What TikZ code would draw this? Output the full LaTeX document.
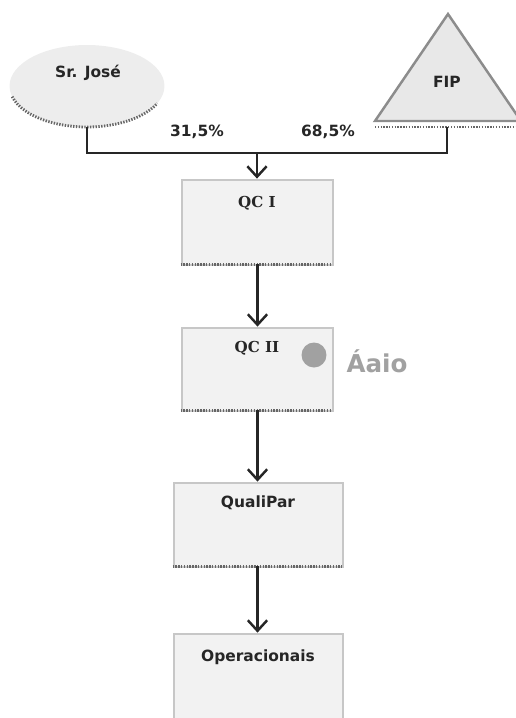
\documentclass[tikz,border=0pt]{standalone}
\usepackage{fontspec}
\setmainfont{DejaVu Sans}
\newfontfamily\serifbf{DejaVu Serif}
\usetikzlibrary{shapes.geometric,arrows.meta}

\begin{document}
\begin{tikzpicture}[x=0.02cm, y=-0.02cm,
		bloco/.style={rectangle, draw=black!22, fill=black!5, line width=1.6pt, inner sep=0pt},
		elipse/.style={ellipse, fill=black!7, inner sep=0pt},
		triang/.style={draw=black!45, fill=black!9, line width=1.4pt, line join=miter},
		sombra/.style={draw=black!60, line width=1.6pt, dash pattern=on 0.8pt off 0.8pt},
		lbl/.style={font=\fontsize{8.8}{10}\selectfont\bfseries, text=black!85},
		lblserif/.style={font=\fontsize{8.6}{10}\selectfont\serifbf\bfseries, text=black!85},
		liga/.style={draw=black!85, line width=1.4pt},
		seta/.style={liga, -{Straight Barb[length=6pt, width=11pt]}}]
			%%%%% START %%%%%
			\useasboundingbox (0,0) rectangle (515,718);
			
			% topo: socios
			\node[elipse, minimum width=3.1cm, minimum height=1.64cm] (sr) at (87,86) {};
			\draw[sombra] (sr.center) ++(195:1.55cm and 0.82cm) arc[start angle=195, end angle=335, x radius=1.55cm, y radius=0.82cm];
			\node[lbl] (srtxt) at (88,73) {Sr. José};
			
			\draw[triang] (375,121) -- (448,14) -- (521,121) -- cycle;
			\draw[sombra] (375,127) -- (521,127);
			\node[lbl] (fip) at (447,82) {FIP};
			\coordinate (fipbase) at (447,127);
			
			\node[lbl] (p1) at (197,132) {31,5\%};
			\node[lbl] (p2) at (328,132) {68,5\%};
			
			% caixas
			\node[bloco, minimum width=3.02cm, minimum height=1.7cm] (qc1) at (257.5,222.5) {};
			\draw[sombra] (qc1.south west) ++(0,-2) -- ++(151,0);
			\node[lblserif] (qc1txt) at (257,203) {QC I};
			
			\node[bloco, minimum width=3.02cm, minimum height=1.66cm] (qc2) at (257.5,369.5) {};
			\draw[sombra] (qc2.south west) ++(0,-2) -- ++(151,0);
			\node[lblserif] (qc2txt) at (257,348) {QC II};
			\node[circle, fill=black!37, minimum size=0.5cm, inner sep=0pt] (ponto) at (314,355) {};
			\node[font=\fontsize{14}{16}\selectfont\bfseries, text=black!37] (aaio) at (377,361) {Áaio};
			
			\node[bloco, minimum width=3.38cm, minimum height=1.68cm] (qp) at (258.5,525) {};
			\draw[sombra] (qp.south west) ++(0,-2) -- ++(169,0);
			\node[lbl] (qptxt) at (258,503) {QualiPar};
			
			\node[bloco, minimum width=3.38cm, minimum height=2.52cm] (op) at (258.5,697) {};
			\node[lbl] (optxt) at (258,657) {Operacionais};
			
			% ligacoes
			\coordinate (junta) at (257,153);
			\draw[liga] (sr.south) |- (junta);
			\draw[liga] (fipbase) |- (junta);
			\draw[seta] (junta) -- (qc1.north -| junta);
			\draw[seta] (qc1.south) ++(0,-2) -- (qc2.north);
			\draw[seta] (qc2.south) ++(0,-2) -- (qp.north -| qc2.south);
			\draw[seta] (qp.south -| qc2.south) ++(0,-2) -- (op.north -| qc2.south);
			%%%%% END %%%%%
\end{tikzpicture}
\end{document}
